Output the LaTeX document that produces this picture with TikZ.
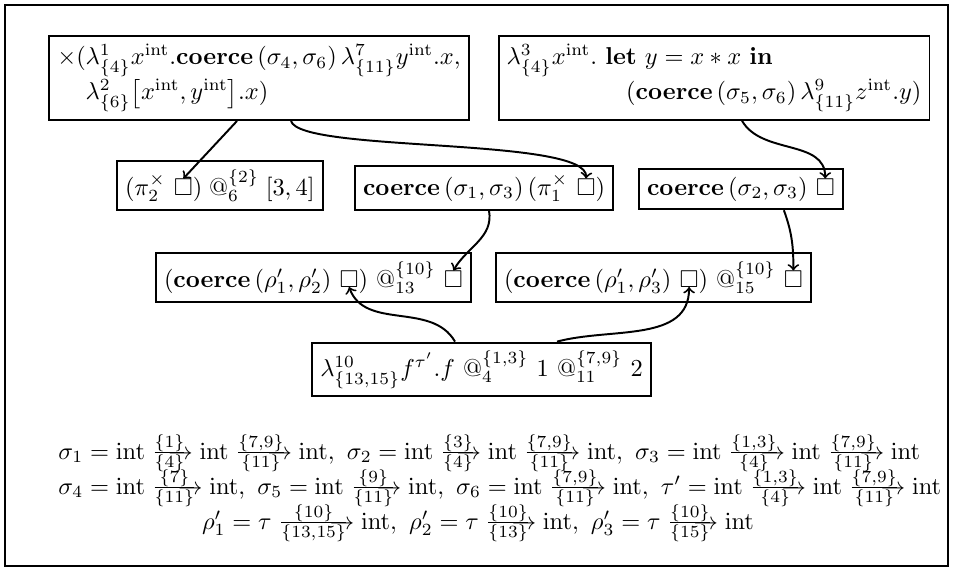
\documentclass[tikz,border=0pt]{standalone}
\usepackage{amsmath,amssymb}
\usetikzlibrary{fit,calc}
\tikzset{
  box/.style={draw, line width=0.8pt, inner sep=3.33pt},
  pc/.style={inner sep=0pt, outer sep=0pt, anchor=base west},
  arr/.style={->, line width=0.8pt},
  frm/.style={anchor=base west, inner sep=0pt},
  frmc/.style={anchor=base, inner sep=0pt},
}
\newcommand{\xto}[2]{\mathrel{\mathord{\genfrac{}{}{0.4pt}{1}{\{#1\}}{\{#2\}}}\mkern-14mu\mathord{\rightarrow}}}
\newcommand{\kw}[1]{\mathbf{#1}}
\newcommand{\tint}{\mathrm{int}}
\begin{document}
\begin{tikzpicture}[x=0.41pt,y=-0.41pt]
\useasboundingbox (0,0) rectangle (953,571);
\draw[line width=1.2pt] (5,5) rectangle (948,566);

\node[box, align=left] (A) at (259,78) {$\times(\lambda^1_{\{4\}}x^{\tint}.\kw{coerce}\,(\sigma_4,\sigma_6)\,\lambda^7_{\{11\}}y^{\tint}.x,$\\$\hphantom{\times(}\lambda^2_{\{6\}}\bigl[x^{\tint},y^{\tint}\bigr].x)$};
\node[box, align=left] (B) at (714,78) {$\lambda^3_{\{4\}}x^{\tint}.\ \kw{let}\ y = x * x\ \kw{in}$\\\hspace*{49pt}$(\kw{coerce}\,(\sigma_5,\sigma_6)\,\lambda^9_{\{11\}}z^{\tint}.y)$};

% row 2
\node[pc] (c1) at (125,195) {$(\pi_2^{\times}\ $};
\node[pc] (cb) at (c1.base east) {$\square$};
\node[pc] (c2) at (cb.base east) {$)\;@_6^{\{2\}}\;[3,4]$};
\node[box, fit=(c1)(cb)(c2)] (C) {};

\node[pc] (d1) at (363,195) {$\kw{coerce}\,(\sigma_1,\sigma_3)\,(\pi_1^{\times}\ $};
\node[pc] (db) at (d1.base east) {$\square$};
\node[pc] (d2) at (db.base east) {$)$};
\node[box, fit=(d1)(db)(d2)] (D) {};

\node[pc] (e1) at (647,195) {$\kw{coerce}\,(\sigma_2,\sigma_3)\ $};
\node[pc] (eb) at (e1.base east) {$\square$};
\node[box, fit=(e1)(eb)] (E) {};

% row 3
\node[pc] (f1) at (164,287) {$(\kw{coerce}\,(\rho_1',\rho_2')\ $};
\node[pc] (fb1) at (f1.base east) {$\square$};
\node[pc] (f2) at (fb1.base east) {$)\ @_{13}^{\{10\}}\ $};
\node[pc] (fb2) at (f2.base east) {$\square$};
\node[box, fit=(f1)(fb1)(f2)(fb2)] (F) {};

\node[pc] (g1) at (504,287) {$(\kw{coerce}\,(\rho_1',\rho_3')\ $};
\node[pc] (gb1) at (g1.base east) {$\square$};
\node[pc] (g2) at (gb1.base east) {$)\ @_{15}^{\{10\}}\ $};
\node[pc] (gb2) at (g2.base east) {$\square$};
\node[box, fit=(g1)(gb1)(g2)(gb2)] (G) {};

% bottom
\node[box] (H) at (481.5,369.5) {$\lambda^{10}_{\{13,15\}}f^{\tau'}.f\ @_4^{\{1,3\}}\ 1\ @_{11}^{\{7,9\}}\ 2$};

% formulas
\node[frm] (l1) at (58,459) {$\sigma_1 = \tint \xto{1}{4} \tint \xto{7,9}{11} \tint,\ \sigma_2 = \tint \xto{3}{4} \tint \xto{7,9}{11} \tint,\ \sigma_3 = \tint \xto{1,3}{4} \tint \xto{7,9}{11} \tint$};
\node[frm] (l2) at (58,494) {$\sigma_4 = \tint \xto{7}{11} \tint,\ \sigma_5 = \tint \xto{9}{11} \tint,\ \sigma_6 = \tint \xto{7,9}{11} \tint,\ \tau' = \tint \xto{1,3}{4} \tint \xto{7,9}{11} \tint$};
\node[frmc] (l3) at (478,529) {$\rho_1' = \tau \xto{10}{13,15} \tint,\ \rho_2' = \tau \xto{10}{13} \tint,\ \rho_3' = \tau \xto{10}{15} \tint$};

% connectors
\draw[arr] ($(A.south)+(-22,0)$) -- (cb.north);
\draw[arr] ($(A.south)+(32,0)$) .. controls ($(A.south)+(41,32)$) and ($(db.north)+(3,-42)$) .. (db.north);
\draw[arr] ($(B.south)+(28,0)$) to[out=-60,in=90] (eb.north);
\draw[arr] ($(D.south)+(5,0)$) to[out=-80,in=60] (fb2.north);
\draw[arr] ($(E.south)+(43,0)$) to[out=-70,in=90] (gb2.north);
\draw[arr] ($(H.north)+(-26.5,0)$) to[out=120,in=-70] (fb1.south);
\draw[arr] ($(H.north)+(75.5,0)$) to[out=15,in=-90] (gb1.south);
\end{tikzpicture}
\end{document}
